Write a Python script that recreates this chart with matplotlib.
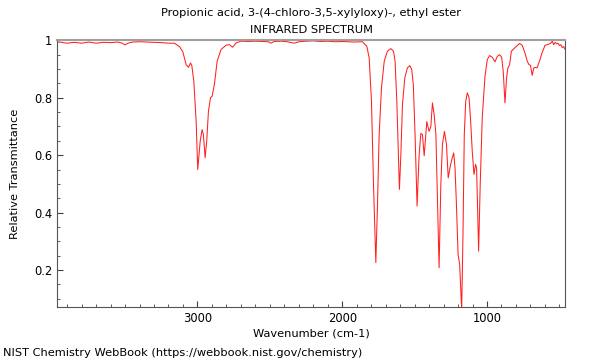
import matplotlib
matplotlib.use('Agg')
from matplotlib import pyplot as plt
from matplotlib.ticker import FixedLocator, MultipleLocator, FuncFormatter
import numpy as np

# spectrum, high to low wavenumber
wavenumber = [3970, 3900, 3850, 3800, 3750, 3700, 3650, 3600, 3550, 3520,
              3500, 3480, 3450, 3400, 3350, 3300, 3250, 3200, 3159, 3124,
              3101, 3078, 3062, 3048, 3039, 3025, 3009, 2998, 2981, 2968,
              2959, 2947, 2936, 2924, 2910, 2899, 2883, 2864, 2837, 2802,
              2779, 2757, 2733, 2699, 2650, 2600, 2550, 2510, 2492, 2470,
              2420, 2380, 2331, 2300, 2250, 2200, 2150, 2100, 2050, 2000,
              1950, 1917, 1860, 1830, 1814, 1798, 1784, 1768, 1757, 1745,
              1729, 1710, 1688, 1664, 1646, 1635, 1623, 1612, 1605, 1595,
              1584, 1568, 1550, 1533, 1520, 1509, 1497, 1483, 1469, 1457,
              1446, 1434, 1426, 1416, 1400, 1388, 1377, 1365, 1353, 1342,
              1331, 1319, 1308, 1294, 1280, 1268, 1254, 1240, 1230, 1221,
              1212, 1200, 1189, 1180, 1175, 1166, 1157, 1147, 1136, 1124,
              1113, 1102, 1090, 1079, 1072, 1065, 1058, 1047, 1033, 1014,
              998, 982, 964, 945, 929, 913, 899, 888, 876, 865,
              856, 844, 832, 814, 791, 775, 757, 738, 722, 710,
              700, 688, 677, 666, 654, 638, 620, 600, 585, 572,
              560, 549, 540, 530, 520, 510, 500, 490, 480, 470, 464]
transmittance = [0.995, 0.990, 0.993, 0.990, 0.994, 0.990, 0.993, 0.992, 0.994, 0.990,
                 0.984, 0.990, 0.994, 0.995, 0.994, 0.993, 0.992, 0.990, 0.990, 0.978,
                 0.960, 0.915, 0.906, 0.921, 0.913, 0.857, 0.718, 0.550, 0.649, 0.689,
                 0.672, 0.591, 0.649, 0.753, 0.800, 0.805, 0.846, 0.927, 0.968, 0.983,
                 0.985, 0.976, 0.991, 0.997, 0.996, 0.997, 0.996, 0.995, 0.990, 0.996,
                 0.997, 0.995, 0.990, 0.995, 0.997, 0.998, 0.996, 0.997, 0.995, 0.996,
                 0.995, 0.994, 0.995, 0.979, 0.939, 0.788, 0.498, 0.226, 0.417, 0.672,
                 0.834, 0.927, 0.962, 0.971, 0.962, 0.927, 0.788, 0.602, 0.481, 0.602,
                 0.776, 0.869, 0.904, 0.912, 0.898, 0.846, 0.672, 0.423, 0.600, 0.676,
                 0.672, 0.598, 0.649, 0.717, 0.683, 0.700, 0.782, 0.741, 0.672, 0.440,
                 0.208, 0.498, 0.637, 0.683, 0.637, 0.521, 0.562, 0.591, 0.608, 0.556,
                 0.440, 0.255, 0.220, 0.115, 0.060, 0.324, 0.672, 0.788, 0.817, 0.800,
                 0.718, 0.614, 0.533, 0.568, 0.556, 0.417, 0.266, 0.498, 0.730, 0.875,
                 0.933, 0.947, 0.941, 0.925, 0.944, 0.950, 0.941, 0.892, 0.782, 0.869,
                 0.904, 0.915, 0.962, 0.971, 0.982, 0.989, 0.983, 0.956, 0.927, 0.915,
                 0.913, 0.878, 0.904, 0.906, 0.904, 0.927, 0.956, 0.982, 0.985, 0.987,
                 0.990, 0.997, 0.985, 0.993, 0.988, 0.990, 0.982, 0.985, 0.975, 0.978, 0.970]

title = 'Propionic acid, 3-(4-chloro-3,5-xylyloxy)-, ethyl ester\nINFRARED SPECTRUM'
footer = 'NIST Chemistry WebBook (https://webbook.nist.gov/chemistry)'

fig = plt.figure(figsize=(6, 3.6), dpi=100)
ax = fig.add_axes([0.095, 0.146, 0.847, 0.742])
ax.plot(wavenumber, transmittance, color='#ff2020', lw=0.75)

ax.set_xlim(3970, 460)
ax.set_ylim(0.07, 1.0)
ax.xaxis.set_major_locator(FixedLocator([1000, 2000, 3000]))
ax.xaxis.set_minor_locator(MultipleLocator(100))
ax.yaxis.set_major_locator(FixedLocator([0.2, 0.4, 0.6, 0.8, 1.0]))
ax.yaxis.set_minor_locator(MultipleLocator(0.05))
ax.yaxis.set_major_formatter(FuncFormatter(lambda v, p: '%g' % round(v, 2)))
ax.tick_params(which='both', direction='in', top=False, right=False,
               color='#404040', labelsize=8.3)
ax.tick_params(which='major', length=4)
ax.tick_params(which='minor', length=2.5)
for s in ['left', 'bottom', 'right']:
    ax.spines[s].set_color('#555555')
ax.spines['top'].set_color('#a0a0a0')
ax.spines['top'].set_linewidth(1.5)

ax.set_title(title, fontsize=8.2, linespacing=1.9, pad=5)
ax.set_xlabel('Wavenumber (cm-1)', fontsize=8.2, labelpad=2)
ax.set_ylabel('Relative Transmittance', fontsize=8.2, labelpad=10)
fig.text(0.005, 0.01, footer, fontsize=8.2)

fig.savefig('out.png', dpi=100)
